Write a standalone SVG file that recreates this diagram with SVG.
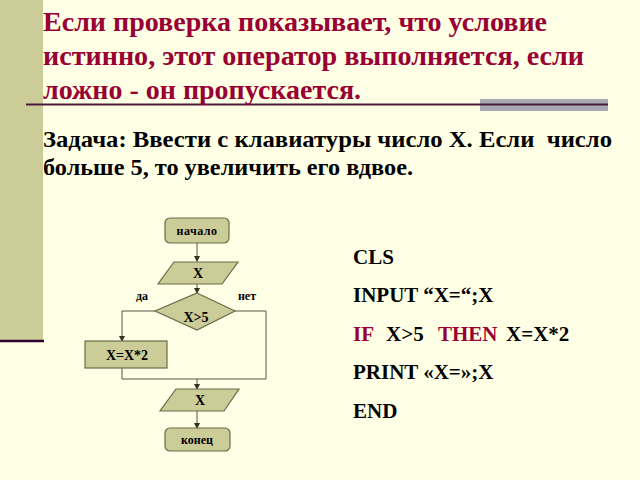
<svg xmlns="http://www.w3.org/2000/svg" width="640" height="480" viewBox="0 0 640 480">
<defs>
<style>
.t{font-family:"Liberation Serif","Times New Roman",serif;font-weight:bold}
.title{font-size:28px;fill:#990033}
.task{font-size:24px;fill:#000}
.code{font-size:21px;fill:#000}
.kw{fill:#990033}
.shape{fill:#CCCC99;stroke:#6B6B4B;stroke-width:1.2}
.lbl{font-size:12px;fill:#000;text-anchor:middle}
.big{font-size:14px}
.conn{fill:none;stroke:#555544;stroke-width:1}
</style>
<marker id="ah" markerWidth="6" markerHeight="6" refX="5" refY="3" orient="auto" markerUnits="userSpaceOnUse">
<path d="M0,0 L6,3 L0,6 z" fill="#333322"/>
</marker>
</defs>
<rect x="0" y="0" width="640" height="480" fill="#FFFFE5"/>
<rect x="0" y="0" width="43" height="340" fill="#CCCC99"/>
<line x1="0" y1="341" x2="44" y2="341" stroke="#330033" stroke-width="2.5"/>
<rect x="480" y="99" width="128" height="12" fill="#A9A9B1"/>
<line x1="26" y1="104.5" x2="608" y2="104.5" stroke="#4A1A3A" stroke-width="2"/>
<text class="t title" x="43" y="31" textLength="504" lengthAdjust="spacingAndGlyphs">Если проверка показывает, что условие</text>
<text class="t title" x="43" y="65" textLength="541" lengthAdjust="spacingAndGlyphs">истинно, этот оператор выполняется, если</text>
<text class="t title" x="43" y="99">ложно - он пропускается.</text>
<text class="t task" x="43" y="147" xml:space="preserve" textLength="569" lengthAdjust="spacingAndGlyphs">Задача: Ввести с клавиатуры число Х. Если  число</text>
<text class="t task" x="43" y="175" textLength="370" lengthAdjust="spacingAndGlyphs">больше 5, то увеличить его вдвое.</text>
<g id="connectors">
<line class="conn" x1="197" y1="243" x2="197" y2="261" marker-end="url(#ah)"/>
<line class="conn" x1="197" y1="284" x2="197" y2="293" marker-end="url(#ah)"/>
<polyline class="conn" points="155,311 122,311 122,341" marker-end="url(#ah)"/>
<polyline class="conn" points="235,311 266,311 266,379 122,379 122,368"/>
<line class="conn" x1="197" y1="379" x2="197" y2="389" marker-end="url(#ah)"/>
<line class="conn" x1="197" y1="411" x2="197" y2="428" marker-end="url(#ah)"/>
</g>
<g id="start">
<rect class="shape" x="165" y="218" width="64" height="25" rx="5"/>
<text class="t lbl" x="197" y="235" letter-spacing="0.5">начало</text>
</g>
<g id="input">
<polygon class="shape" points="174,262 238,262 222,284 158,284"/>
<text class="t lbl big" x="198" y="278">X</text>
</g>
<g id="decision">
<polygon class="shape" points="197,293 235,311 197,330 155,311"/>
<text class="t lbl big" x="196" y="322">X&gt;5</text>
<text class="t lbl" x="142" y="300">да</text>
<text class="t lbl" x="247" y="300">нет</text>
</g>
<g id="assign">
<rect class="shape" x="85" y="341" width="82" height="27"/>
<text class="t lbl big" x="127" y="360">X=X*2</text>
</g>
<g id="output">
<polygon class="shape" points="176,389 239,389 224,411 160,411"/>
<text class="t lbl big" x="200" y="405">X</text>
</g>
<g id="end">
<rect class="shape" x="165" y="428" width="65" height="23" rx="5"/>
<text class="t lbl" x="197" y="444" font-size="13">конец</text>
</g>
<text class="t code" x="353" y="264">CLS</text>
<text class="t code" x="353" y="302">INPUT “X=“;X</text>
<text class="t code" y="341"><tspan class="kw" x="353">IF</tspan><tspan x="386">X&gt;5</tspan><tspan class="kw" x="438">THEN</tspan><tspan x="506">X=X*2</tspan></text>
<text class="t code" x="353" y="379">PRINT «X=»;X</text>
<text class="t code" x="353" y="418">END</text>
</svg>
